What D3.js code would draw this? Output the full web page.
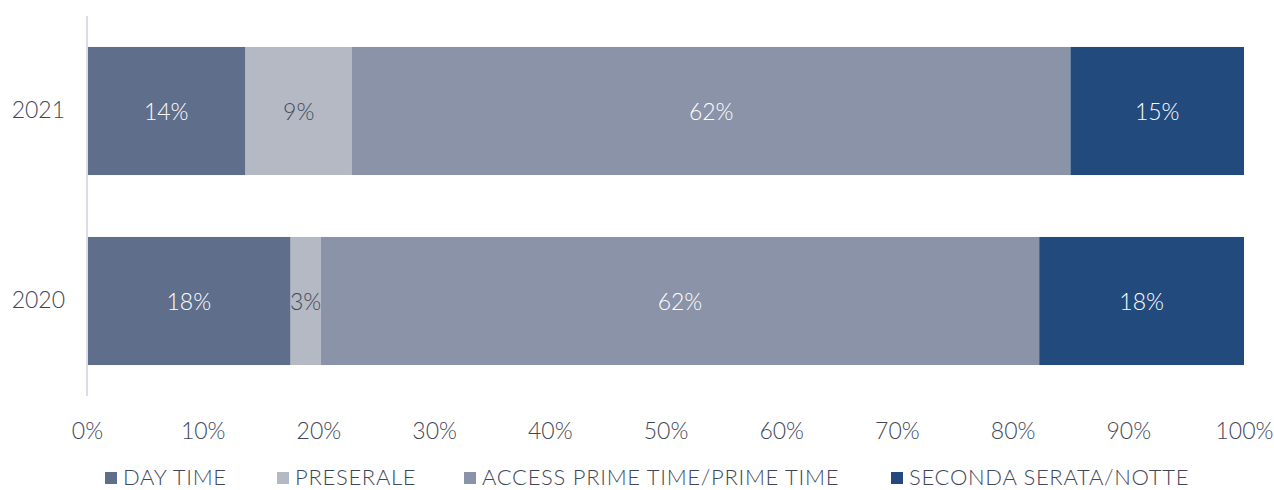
<!DOCTYPE html>
<html>
<head>
<meta charset="utf-8">
<script src="https://cdn.jsdelivr.net/npm/d3@7"></script>
<style>
  html, body { margin: 0; padding: 0; background: #ffffff; }
  svg text { font-family: "Lato", "Open Sans", sans-serif; font-weight: 300; }
</style>
</head>
<body>
<svg id="chart" width="1274" height="490"></svg>
<script>
const categories = ["2021", "2020"];
const seriesNames = ["DAY TIME", "PRESERALE", "ACCESS PRIME TIME/PRIME TIME", "SECONDA SERATA/NOTTE"];
const dayTime = [13.7, 17.6];
const preserale = [9.2, 2.6];
const accessPrime = [62.1, 62.1];
const secondaSerata = [15.0, 17.7];
const dayTimeLabels = ["14%", "18%"];
const preseraleLabels = ["9%", "3%"];
const accessPrimeLabels = ["62%", "62%"];
const secondaSerataLabels = ["15%", "18%"];
const tickValues = [0, 10, 20, 30, 40, 50, 60, 70, 80, 90, 100];
const colors = ["#5f6e8b", "#b5b9c4", "#8a93a8", "#234a7c"];
const labelColors = ["#ffffff", "#404a5c", "#ffffff", "#ffffff"];

const seriesValues = [dayTime, preserale, accessPrime, secondaSerata];
const seriesLabels = [dayTimeLabels, preseraleLabels, accessPrimeLabels, secondaSerataLabels];

const rows = categories.map((c, i) => {
  const r = { year: c };
  seriesNames.forEach((s, j) => { r[s] = seriesValues[j][i]; });
  return r;
});
const stacked = d3.stack().keys(seriesNames)(rows);

const svg = d3.select("#chart");
const x = d3.scaleLinear().domain([0, 100]).range([87, 1244]);
const y = d3.scaleBand().domain(categories).range([16, 396]).paddingInner(0.326).paddingOuter(0.163);
const textColor = "#3f485a";

// bars
stacked.forEach((layer, j) => {
  const g = svg.append("g");
  g.selectAll("rect").data(layer).join("rect")
    .attr("x", d => x(d[0]))
    .attr("y", (d, i) => y(categories[i]))
    .attr("width", d => x(d[1]) - x(d[0]))
    .attr("height", y.bandwidth())
    .attr("fill", colors[j]);
  g.selectAll("text").data(layer).join("text")
    .attr("x", d => (x(d[0]) + x(d[1])) / 2)
    .attr("y", (d, i) => y(categories[i]) + y.bandwidth() / 2)
    .attr("text-anchor", "middle")
    .attr("dominant-baseline", "central")
    .attr("font-size", 23)
    .attr("fill", labelColors[j])
    .text((d, i) => seriesLabels[j][i]);
});

// vertical axis line
svg.append("line")
  .attr("x1", x(0)).attr("x2", x(0))
  .attr("y1", 16).attr("y2", 396)
  .attr("stroke", "#d9dce6").attr("stroke-width", 2);

// y labels
const yAxis = d3.axisLeft(y).tickSize(0).tickPadding(22);
const yg = svg.append("g").attr("transform", `translate(${x(0)},0)`).call(yAxis);
yg.select(".domain").remove();
yg.selectAll("text").attr("font-size", 23).attr("fill", textColor)
  .style("font-family", "Lato, sans-serif").style("font-weight", 300);

// x axis labels
const xAxis = d3.axisBottom(x).tickValues(tickValues).tickFormat(d => d + "%").tickSize(0).tickPadding(22);
const xg = svg.append("g").attr("transform", "translate(0,401)").call(xAxis);
xg.select(".domain").remove();
xg.selectAll("text").attr("font-size", 23).attr("fill", textColor)
  .style("font-family", "Lato, sans-serif").style("font-weight", 300);

// legend
const legendX = [105, 277, 464, 891];
const lg = svg.append("g");
seriesNames.forEach((s, j) => {
  lg.append("rect").attr("x", legendX[j]).attr("y", 472).attr("width", 12).attr("height", 12).attr("fill", colors[j]);
  lg.append("text").attr("x", legendX[j] + 18).attr("y", 476)
    .attr("dominant-baseline", "central")
    .attr("font-size", 22).attr("letter-spacing", 0.7).attr("fill", textColor).text(s);
});
</script>
</body>
</html>
